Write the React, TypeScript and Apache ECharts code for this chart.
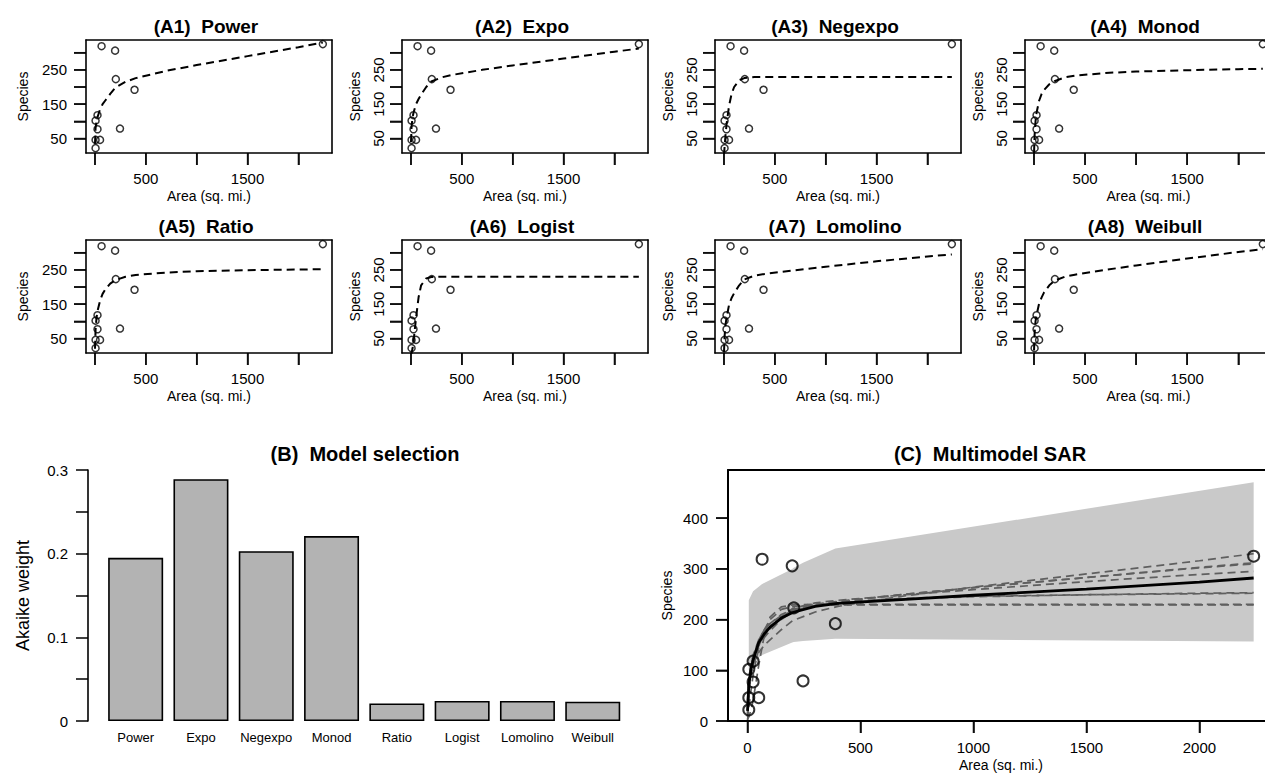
import React, { useEffect, useRef } from "react";
import * as echarts from "echarts";

// ---------------- data ----------------
const areas = [6, 6, 50, 25, 6, 25, 65, 198, 205, 246, 389, 2240];
const species = [22, 46, 46, 77, 102, 118, 319, 306, 223, 79, 192, 325];

const models = ["Power", "Expo", "Negexpo", "Monod", "Ratio", "Logist", "Lomolino", "Weibull"];
const panelTitles = [
  "(A1)  Power",
  "(A2)  Expo",
  "(A3)  Negexpo",
  "(A4)  Monod",
  "(A5)  Ratio",
  "(A6)  Logist",
  "(A7)  Lomolino",
  "(A8)  Weibull",
];
const akaikeWeights = [0.195, 0.289, 0.203, 0.221, 0.021, 0.024, 0.024, 0.023];

const curveX = [0.5, 6, 15, 25, 50, 75, 100, 150, 200, 300, 400, 700, 1000, 1500, 2000, 2240];
const powerFit = [35, 80, 100, 112, 135, 150, 160, 180, 198, 215, 226, 247, 264, 290, 316, 330];
const expoFit = [40, 85, 110, 125, 150, 165, 178, 200, 216, 228, 235, 250, 263, 283, 303, 312];
const negexpoFit = [2, 25, 58, 90, 145, 180, 200, 220, 226, 229, 229, 229, 229, 229, 229, 229];
const monodFit = [8, 60, 100, 125, 160, 180, 192, 208, 217, 228, 233, 241, 245, 249, 252, 253];
const ratioFit = [20, 75, 110, 130, 160, 180, 192, 210, 220, 230, 235, 242, 246, 249, 251, 252];
const logistFit = [3, 8, 20, 40, 110, 170, 205, 225, 229, 230, 230, 230, 230, 230, 230, 230];
const lomolinoFit = [10, 55, 90, 110, 148, 168, 182, 205, 222, 233, 238, 249, 259, 275, 289, 295];
const weibullFit = [15, 65, 100, 118, 152, 170, 185, 205, 218, 230, 236, 250, 263, 283, 302, 310];
const averageFit = [20, 70, 100, 120, 155, 172, 185, 203, 214, 226, 232, 240, 248, 260, 274, 282];
const fits = [powerFit, expoFit, negexpoFit, monodFit, ratioFit, logistFit, lomolinoFit, weibullFit];

const bandX = [6, 25, 50, 65, 198, 205, 246, 389, 2240];
const bandLo = [100, 115, 125, 130, 155, 156, 158, 162, 157];
const bandHi = [238, 256, 265, 270, 300, 302, 312, 340, 471];

const aXRange = [-88, 2330];
const aYRange = [7.8, 337];
const cXRange = [-86, 2330];
const cYRange = [0, 495];

const aXTicks = [0, 500, 1000, 1500, 2000];
const aXLabels = [500, 1500];
const aYTicks = [50, 100, 150, 200, 250, 300];
const aYLabels = [50, 150, 250];
const bYLabels = [0, 0.1, 0.2, 0.3];
const cXTicks = [0, 500, 1000, 1500, 2000];
const cYTicks = [0, 100, 200, 300, 400];

// ---------------- layout ----------------
const FONT = '"Liberation Sans", Arial, Helvetica, sans-serif';
const aLefts = [86, 402, 715, 1025];
const aTops = [40, 240];
const aW = 246;
const aH = 113;
const TICK = 12;

const plain = (v: number) => String(v);

// outward tick marks drawn as thin rect symbols placed through the axes
function tickMarks(gridIdx: number, xTicks: number[], yTicks: number[], xMin: number, yMin: number) {
  return [
    {
      type: "scatter",
      xAxisIndex: gridIdx,
      yAxisIndex: gridIdx,
      clip: false,
      z: 6,
      data: xTicks.map((v) => [v, yMin]),
      symbol: "rect",
      symbolSize: [1.5, TICK],
      symbolOffset: [0, TICK / 2],
      itemStyle: { color: "#000" },
      tooltip: { show: false },
    },
    {
      type: "scatter",
      xAxisIndex: gridIdx,
      yAxisIndex: gridIdx,
      clip: false,
      z: 6,
      data: yTicks.map((v) => [xMin, v]),
      symbol: "rect",
      symbolSize: [TICK, 1.5],
      symbolOffset: [-TICK / 2, 0],
      itemStyle: { color: "#000" },
      tooltip: { show: false },
    },
  ];
}

function titleText(text: string, x: number, y: number, size: number) {
  return {
    type: "text",
    x,
    y,
    z: 20,
    style: {
      text,
      fill: "#000",
      font: `bold ${size}px ${FONT}`,
      align: "center",
      verticalAlign: "middle",
    },
  };
}

function frameAxis(gridIndex: number, position: string, min: number, max: number, width: number) {
  return {
    type: "value",
    gridIndex,
    position,
    min,
    max,
    axisLine: { show: true, onZero: false, lineStyle: { color: "#000", width } },
    axisTick: { show: false },
    axisLabel: { show: false },
    splitLine: { show: false },
  };
}

function buildOption() {
  const grids: any[] = [];
  const xAxes: any[] = [];
  const yAxes: any[] = [];
  const xFrames: any[] = [];
  const yFrames: any[] = [];
  const series: any[] = [];
  const graphics: any[] = [];

  const tickStyle = { color: "#000", width: 1.5 };
  const lineStyle = { color: "#000", width: 1.6 };

  for (let i = 0; i < 8; i++) {
    const col = i % 4;
    const row = Math.floor(i / 4);
    grids.push({
      left: aLefts[col],
      top: aTops[row],
      width: col === 3 ? aW + 1 : aW,
      height: aH,
      show: false,
    });
    xAxes.push({
      type: "value",
      gridIndex: i,
      position: "bottom",
      min: aXRange[0],
      max: aXRange[1],
      axisLine: { show: true, onZero: false, lineStyle },
      splitLine: { show: false },
      axisTick: { show: true, inside: false, length: TICK, lineStyle: tickStyle, customValues: aXTicks },
      axisLabel: {
        customValues: aXLabels,
        formatter: plain,
        margin: 18,
        fontSize: 15,
        color: "#000",
        fontFamily: FONT,
      },
      name: "Area (sq. mi.)",
      nameLocation: "middle",
      nameGap: 36,
      nameTextStyle: { fontSize: 14, color: "#000", fontFamily: FONT },
    });
    const horiz = i === 0 || i === 4;
    yAxes.push({
      type: "value",
      gridIndex: i,
      position: "left",
      min: aYRange[0],
      max: aYRange[1],
      axisLine: { show: true, onZero: false, lineStyle },
      splitLine: { show: false },
      axisTick: { show: true, inside: false, length: TICK, lineStyle: tickStyle, customValues: aYTicks },
      axisLabel: {
        customValues: aYLabels,
        formatter: plain,
        margin: horiz ? 19 : 16,
        rotate: horiz ? 0 : 90,
        fontSize: 15,
        color: "#000",
        fontFamily: FONT,
      },
      name: "Species",
      nameLocation: "middle",
      nameRotate: 90,
      nameGap: horiz ? 56 : 40,
      nameTextStyle: { fontSize: 14, color: "#000", fontFamily: FONT },
    });
    xFrames.push(frameAxis(i, "top", aXRange[0], aXRange[1], 1.6));
    yFrames.push(frameAxis(i, "right", aYRange[0], aYRange[1], 1.6));
    series.push(...tickMarks(i, aXTicks, aYTicks, aXRange[0], aYRange[0]));
    series.push({
      type: "line",
      xAxisIndex: i,
      yAxisIndex: i,
      data: curveX.map((x, j) => [x, fits[i][j]]),
      showSymbol: false,
      lineStyle: { color: "#000", width: 2, type: [8, 5] },
      clip: true,
      z: 3,
    });
    series.push({
      type: "scatter",
      xAxisIndex: i,
      yAxisIndex: i,
      data: areas.map((a, j) => [a, species[j]]),
      symbol: "circle",
      symbolSize: 7,
      itemStyle: { color: "rgba(0,0,0,0)", borderColor: "#000", borderWidth: 1.5 },
      z: 4,
    });
    graphics.push(titleText(panelTitles[i], aLefts[col] + aW / 2 - 3, aTops[row] - 14, 19));
  }

  // ---------- panel B ----------
  grids.push({ left: 103, top: 470, width: 522.4, height: 251, show: false });
  xAxes.push({
    type: "category",
    gridIndex: 8,
    data: models,
    axisLine: { show: false },
    axisTick: { show: false },
    axisLabel: { margin: 10, fontSize: 13, color: "#000", fontFamily: FONT, interval: 0 },
  });
  yAxes.push({
    type: "value",
    gridIndex: 8,
    min: 0,
    max: 0.3,
    interval: 0.05,
    offset: 15,
    axisLine: { show: true, onZero: false, lineStyle },
    splitLine: { show: false },
    axisTick: { show: true, length: TICK, lineStyle: tickStyle },
    axisLabel: {
      customValues: bYLabels,
      margin: 20,
      fontSize: 15,
      color: "#000",
      fontFamily: FONT,
      formatter: plain,
    },
    name: "Akaike weight",
    nameLocation: "middle",
    nameRotate: 90,
    nameGap: 56,
    nameTextStyle: { fontSize: 18, color: "#000", fontFamily: FONT },
  });
  series.push({
    type: "bar",
    xAxisIndex: 8,
    yAxisIndex: 8,
    data: akaikeWeights,
    barWidth: 55,
    itemStyle: { color: "#b3b3b3", borderColor: "#000", borderWidth: 1.6 },
  });
  graphics.push(titleText("(B)  Model selection", 365, 454, 20));

  // ---------- panel C ----------
  grids.push({ left: 728, top: 470, width: 546, height: 251, show: false });
  xAxes.push({
    type: "value",
    gridIndex: 9,
    position: "bottom",
    min: cXRange[0],
    max: cXRange[1],
    axisLine: { show: true, onZero: false, lineStyle: { color: "#000", width: 2 } },
    splitLine: { show: false },
    axisTick: { show: true, inside: false, length: TICK, lineStyle: tickStyle, customValues: cXTicks },
    axisLabel: {
      customValues: cXTicks,
      formatter: plain,
      margin: 19,
      fontSize: 15,
      color: "#000",
      fontFamily: FONT,
    },
    name: "Area (sq. mi.)",
    nameLocation: "middle",
    nameGap: 37,
    nameTextStyle: { fontSize: 14, color: "#000", fontFamily: FONT },
  });
  yAxes.push({
    type: "value",
    gridIndex: 9,
    position: "left",
    min: cYRange[0],
    max: cYRange[1],
    axisLine: { show: true, onZero: false, lineStyle: { color: "#000", width: 2 } },
    splitLine: { show: false },
    axisTick: { show: true, inside: false, length: TICK, lineStyle: tickStyle, customValues: cYTicks },
    axisLabel: {
      customValues: cYTicks,
      formatter: plain,
      margin: 20,
      fontSize: 15,
      color: "#000",
      fontFamily: FONT,
    },
    name: "Species",
    nameLocation: "middle",
    nameRotate: 90,
    nameGap: 54,
    nameTextStyle: { fontSize: 14, color: "#000", fontFamily: FONT },
  });
  xFrames.push(frameAxis(9, "top", cXRange[0], cXRange[1], 2));
  yFrames.push(frameAxis(9, "right", cYRange[0], cYRange[1], 2));
  series.push(...tickMarks(9, cXTicks, cYTicks, cXRange[0], cYRange[0]));
  series.push({
    type: "custom",
    xAxisIndex: 9,
    yAxisIndex: 9,
    clip: true,
    z: 1,
    data: bandX.map((x, i) => [x, bandLo[i], bandHi[i]]),
    encode: { x: 0, y: [1, 2] },
    renderItem: (params: any, api: any) => {
      if (params.dataIndex !== 0) return { type: "group", children: [] };
      const up = bandX.map((x, i) => api.coord([x, bandHi[i]]));
      const lo = bandX.map((x, i) => api.coord([x, bandLo[i]])).reverse();
      return {
        type: "polygon",
        shape: { points: up.concat(lo) },
        style: { fill: "#c9c9c9", stroke: "none" },
      };
    },
  });
  for (let m = 0; m < 8; m++) {
    series.push({
      type: "line",
      xAxisIndex: 9,
      yAxisIndex: 9,
      data: curveX.map((x, j) => [x, fits[m][j]]),
      showSymbol: false,
      lineStyle: { color: "#5f5f5f", width: 1.7, type: [8, 5] },
      clip: true,
      z: 3,
    });
  }
  series.push({
    type: "line",
    xAxisIndex: 9,
    yAxisIndex: 9,
    data: curveX.map((x, j) => [x, averageFit[j]]),
    showSymbol: false,
    lineStyle: { color: "#000", width: 2.8 },
    clip: true,
    z: 4,
  });
  series.push({
    type: "scatter",
    xAxisIndex: 9,
    yAxisIndex: 9,
    data: areas.map((a, j) => [a, species[j]]),
    symbol: "circle",
    symbolSize: 11,
    itemStyle: { color: "rgba(0,0,0,0)", borderColor: "#000", borderWidth: 2 },
    z: 5,
  });
  graphics.push(titleText("(C)  Multimodel SAR", 990, 454, 20));

  return {
    animation: false,
    backgroundColor: "#fff",
    textStyle: { fontFamily: FONT },
    grid: grids,
    xAxis: xAxes.concat(xFrames),
    yAxis: yAxes.concat(yFrames),
    series,
    graphic: graphics,
  };
}

export default function App() {
  const ref = useRef<HTMLDivElement>(null);
  useEffect(() => {
    if (!ref.current) return;
    const chart = echarts.init(ref.current, undefined, { renderer: "svg" });
    chart.setOption(buildOption() as any);
    return () => chart.dispose();
  }, []);
  return (
    <div
      style={{
        position: "fixed",
        left: 0,
        top: 0,
        width: 1265,
        height: 777,
        overflow: "hidden",
        background: "#fff",
      }}
    >
      <div ref={ref} style={{ width: 1290, height: 777 }} />
    </div>
  );
}
